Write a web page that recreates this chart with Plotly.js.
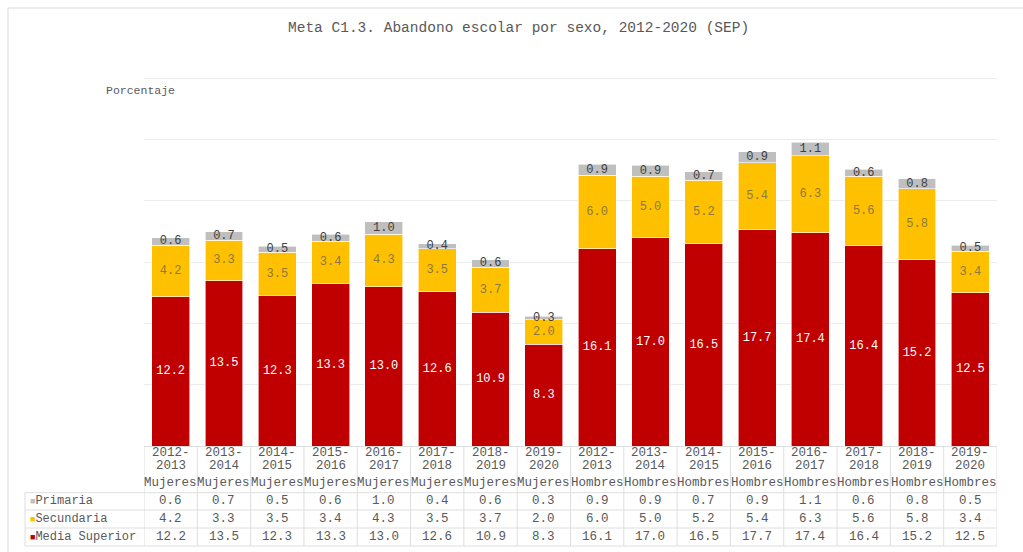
<!DOCTYPE html>
<html>
<head>
<meta charset="utf-8">
<script src="https://cdn.plot.ly/plotly-3.0.1.min.js"></script>
<style>html,body{margin:0;padding:0;background:#fff;}#chart{width:1023px;height:552px;}</style>
</head>
<body>
<div id="chart"></div>
<script>
const periods = ["2012-2013","2013-2014","2014-2015","2015-2016","2016-2017","2017-2018","2018-2019","2019-2020",
                 "2012-2013","2013-2014","2014-2015","2015-2016","2016-2017","2017-2018","2018-2019","2019-2020"];
const sexes = ["Mujeres","Mujeres","Mujeres","Mujeres","Mujeres","Mujeres","Mujeres","Mujeres",
               "Hombres","Hombres","Hombres","Hombres","Hombres","Hombres","Hombres","Hombres"];
const mediaSuperior = [12.2,13.5,12.3,13.3,13.0,12.6,10.9,8.3,16.1,17.0,16.5,17.7,17.4,16.4,15.2,12.5];
const secundaria    = [4.2,3.3,3.5,3.4,4.3,3.5,3.7,2.0,6.0,5.0,5.2,5.4,6.3,5.6,5.8,3.4];
const primaria      = [0.6,0.7,0.5,0.6,1.0,0.4,0.6,0.3,0.9,0.9,0.7,0.9,1.1,0.6,0.8,0.5];
const seriesNames = ["Primaria","Secundaria","Media Superior"];
const colors = {"Media Superior":"#C00000","Secundaria":"#FFC000","Primaria":"#BFBFBF"};
const labelColors = {"Media Superior":"#ffffff","Secundaria":"#8a7a40","Primaria":"#404040"};

const cats = periods.map((p,i)=>p+" "+sexes[i]);
const FONT = "Liberation Mono, DejaVu Sans Mono, monospace";
const W = 1023, H = 552;
const py = p => (H - p) / H;
const px = p => p / W;

function mk(name, vals){
  return {
    type:"bar", name:name, x:cats, y:vals,
    marker:{color:colors[name], line:{color:"#ffffff", width:0.6}},
    width:0.71,
    text:vals.map(v=>v.toFixed(1)), texttemplate:"%{text}",
    textposition:"inside", insidetextanchor:"middle", constraintext:"none", textangle:0,
    textfont:{family:FONT, size:12, color:labelColors[name]},
    hoverinfo:"x+y+name"
  };
}
const data = [mk("Media Superior", mediaSuperior), mk("Secundaria", secundaria), mk("Primaria", primaria)];

const ann = [];
const shapes = [];
const grayText = "#595959";
ann.push({xref:"paper", yref:"paper", x:px(518), y:py(28), text:"Meta C1.3. Abandono escolar por sexo, 2012-2020 (SEP)",
  showarrow:false, xanchor:"center", yanchor:"middle", font:{family:FONT, size:14.5, color:grayText}});
ann.push({xref:"paper", yref:"paper", x:px(104), y:py(91), text:"Porcentaje",
  showarrow:false, xanchor:"left", yanchor:"middle", font:{family:FONT, size:11.5, color:grayText}});

const rows = {"Primaria":primaria, "Secundaria":secundaria, "Media Superior":mediaSuperior};
const rowY = {"Primaria":501, "Secundaria":519, "Media Superior":537};
cats.forEach((c,i)=>{
  const parts = periods[i].split("-");
  ann.push({xref:"x", yref:"paper", x:c, y:py(453), text:parts[0]+"-", showarrow:false, xanchor:"center", yanchor:"middle",
    font:{family:FONT, size:12.5, color:grayText}});
  ann.push({xref:"x", yref:"paper", x:c, y:py(466), text:parts[1], showarrow:false, xanchor:"center", yanchor:"middle",
    font:{family:FONT, size:12.5, color:grayText}});
  ann.push({xref:"x", yref:"paper", x:c, y:py(483), text:sexes[i], showarrow:false, xanchor:"center", yanchor:"middle",
    font:{family:FONT, size:12.5, color:grayText}});
  seriesNames.forEach(s=>{
    ann.push({xref:"x", yref:"paper", x:c, y:py(rowY[s]), text:rows[s][i].toFixed(1), showarrow:false, xanchor:"center", yanchor:"middle",
      font:{family:FONT, size:12.5, color:grayText}});
  });
});
seriesNames.forEach(s=>{
  ann.push({xref:"paper", yref:"paper", x:px(28), y:py(rowY[s]), showarrow:false, xanchor:"left", yanchor:"middle",
    text:'<span style="color:'+colors[s]+';font-size:9px">■</span>'+s,
    font:{family:FONT, size:12, color:grayText}});
});

const lineCol = "#dedede";
[492.7, 510, 528, 546].forEach(yy=>{
  shapes.push({type:"line", xref:"paper", yref:"paper", x0:px(25), x1:px(997), y0:py(yy), y1:py(yy), line:{color:lineCol, width:1}});
});
for (let i=0;i<=cats.length;i++){
  shapes.push({type:"line", xref:"x", yref:"paper", x0:i-0.5, x1:i-0.5, y0:py(446), y1:py(546), line:{color:lineCol, width:1}});
}
shapes.push({type:"line", xref:"paper", yref:"paper", x0:px(25), x1:px(25), y0:py(492.7), y1:py(546), line:{color:lineCol, width:1}});
shapes.push({type:"rect", xref:"paper", yref:"paper", x0:px(8), x1:px(1040), y0:py(8), y1:py(570), line:{color:"#d9d9d9", width:1}, layer:"below"});

const layout = {
  width:W, height:H,
  margin:{l:0, r:0, t:0, b:0},
  paper_bgcolor:"#ffffff", plot_bgcolor:"#ffffff",
  barmode:"stack",
  showlegend:false,
  xaxis:{domain:[px(144), px(997)], type:"category", categoryorder:"array", categoryarray:cats,
    range:[-0.5, cats.length-0.5], showticklabels:false, ticks:"", showgrid:false, zeroline:false,
    showline:true, linecolor:lineCol, linewidth:1, fixedrange:true},
  yaxis:{domain:[py(446), py(76)], range:[0,30.2], tickvals:[5,10,15,20,25,30], showticklabels:false, ticks:"",
    showgrid:true, gridcolor:"#ececec", gridwidth:1, zeroline:false, fixedrange:true},
  annotations:ann,
  shapes:shapes,
  font:{family:FONT, color:grayText}
};
Plotly.newPlot("chart", data, layout, {displayModeBar:false, staticPlot:true});
</script>
</body>
</html>
